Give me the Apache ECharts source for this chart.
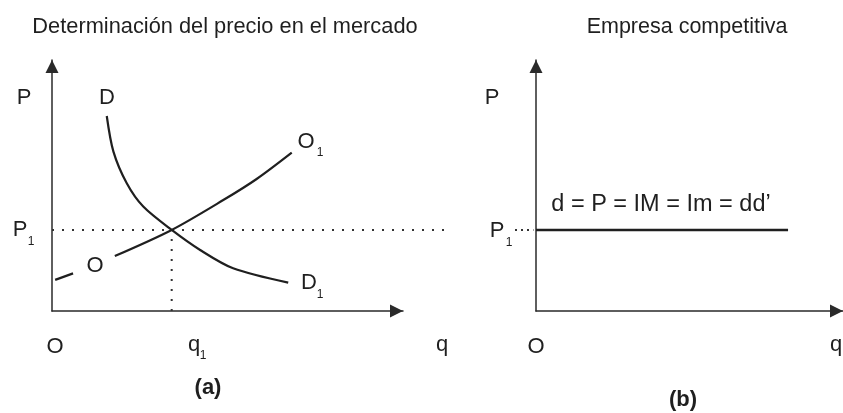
<!DOCTYPE html>
<html>
<head>
<meta charset="utf-8">
<script src="https://cdn.jsdelivr.net/npm/echarts@6/dist/echarts.min.js"></script>
<style>
  html, body { margin: 0; padding: 0; background: #fff; }
  #chart { width: 843px; height: 413px; }
</style>
</head>
<body>
<div id="chart"></div>
<script>
// (a) market: curves in axis units (0..10 on both axes)
const demand = [[1.56, 7.77], [1.75, 6.35], [2.13, 5.09], [2.6, 4.16], [3.41, 3.23], [4.22, 2.43], [5.16, 1.7], [6.73, 1.13]];
const supplyLow = [[0.09, 1.24], [0.6, 1.5]];
const supplyHigh = [[1.79, 2.19], [3.41, 3.23], [4.88, 4.42], [5.83, 5.26], [6.83, 6.31]];
const p1 = 3.23;
const q1 = 3.41;
const priceLineA = [[0, p1], [11.34, p1]];
const quantityLine = [[q1, 0], [q1, p1]];
// (b) competitive firm
const firmDots = [[-0.68, p1], [-0.08, p1]];
const firmDemand = [[0, p1], [8.21, p1]];

const FONT = "'Liberation Sans', Arial, sans-serif";
const INK = "#1f1f1f";

function axis(gridIndex, min, max, visible) {
  return {
    type: "value",
    gridIndex: gridIndex,
    min: min,
    max: max,
    show: visible,
    splitLine: { show: false },
    axisTick: { show: false },
    axisLabel: { show: false },
    axisLine: {
      show: visible,
      onZero: false,
      symbol: ["none", "triangle"],
      symbolSize: [13, 13],
      symbolOffset: [0, -6.5],
      lineStyle: { color: "#2a2a2a", width: 1.5 },
    },
  };
}

function curve(data, gi, style) {
  return {
    type: "line",
    xAxisIndex: gi,
    yAxisIndex: gi,
    data: data,
    smooth: style.smooth || false,
    showSymbol: false,
    silent: true,
    lineStyle: Object.assign({ color: INK, width: 2.2 }, style.line),
  };
}

function txt(x, y, text, size, extra) {
  return {
    type: "text",
    x: x,
    y: y,
    silent: true,
    style: Object.assign(
      {
        text: text,
        fontSize: size,
        fontFamily: FONT,
        fill: INK,
        textAlign: "center",
        textVerticalAlign: "middle",
      },
      extra || {}
    ),
  };
}

const dotted = { type: [2, 8], width: 2, color: "#333" };

const chart = echarts.init(document.getElementById("chart"));
chart.setOption({
  animation: false,
  grid: [
    { left: 52, top: 60, width: 351, height: 251 },
    { left: 536, top: 60, width: 307, height: 251 },
    // same scale as grid 0, wider so the price line can run past the arrow
    { left: 52, top: 60, width: 398, height: 251 },
    // same scale as grid 1, starting left of the axis for the P1 dots
    { left: 515, top: 60, width: 328, height: 251 },
  ],
  xAxis: [axis(0, 0, 10, true), axis(1, 0, 10, true), axis(2, 0, 11.34, false), axis(3, -0.68, 10, false)],
  yAxis: [axis(0, 0, 10, true), axis(1, 0, 10, true), axis(2, 0, 10, false), axis(3, 0, 10, false)],
  series: [
    curve(priceLineA, 2, { line: dotted }),
    curve(quantityLine, 0, { line: dotted }),
    curve(demand, 0, { smooth: 0.3 }),
    curve(supplyLow, 0, {}),
    curve(supplyHigh, 0, { smooth: 0.3 }),
    curve(firmDots, 3, { line: { type: [2, 4], width: 2, color: "#333" } }),
    curve(firmDemand, 1, { line: { width: 2.6 } }),
  ],
  graphic: [
    txt(225, 27, "Determinación del precio en el mercado", 21.8),
    txt(687, 27, "Empresa competitiva", 21.5),
    // panel (a)
    txt(24, 98, "P", 22),
    txt(107, 98, "D", 22),
    txt(306, 142, "O", 22),
    txt(320, 153, "1", 12),
    txt(20, 230, "P", 22),
    txt(31, 242, "1", 12),
    txt(95, 266, "O", 22),
    txt(309, 283, "D", 22),
    txt(320, 295, "1", 12),
    txt(55, 347, "O", 22),
    txt(194, 345, "q", 22),
    txt(203, 356, "1", 12),
    txt(442, 345, "q", 22),
    txt(208, 388, "(a)", 22, { fontWeight: "bold" }),
    // panel (b)
    txt(492, 98, "P", 22),
    txt(497, 231, "P", 22),
    txt(509, 243, "1", 12),
    txt(661, 205, "d = P = IM = Im = dd\u2019", 23.5),
    txt(536, 347, "O", 22),
    txt(836, 345, "q", 22),
    txt(683, 400, "(b)", 22, { fontWeight: "bold" }),
  ],
});
</script>
</body>
</html>
